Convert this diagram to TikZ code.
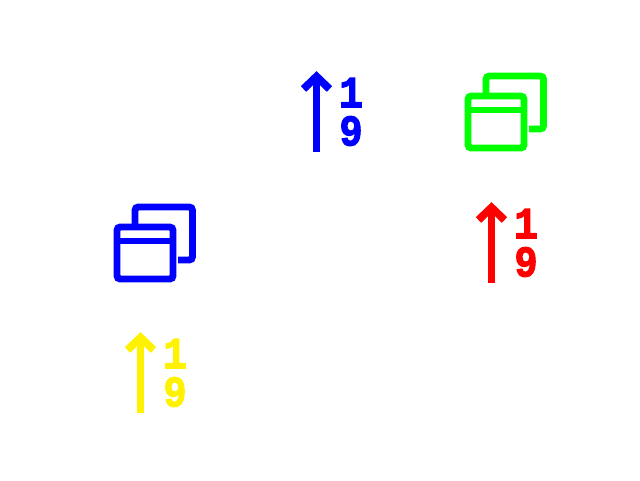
\documentclass[tikz,border=0pt]{standalone}
\usepackage{fontspec}
\setmainfont{DejaVu Sans}
\newfontfamily\digitfont[FakeBold=2.5]{Liberation Mono Bold}
\tikzset{
  x=0.75pt,y=-0.75pt,
  sym/.style={line width=5.2pt,line cap=butt},
  digit/.style={inner sep=0pt,xscale=0.88,font=\fontsize{33}{33}\digitfont},
  pics/arrowfrac/.style={code={
    \draw[sym] (0,80) -- (0,6);
    \draw[sym,line width=5.8pt,line join=miter] (-13,17) -- (0,4.5) -- (13,17);
    \node[digit,text=#1] (-one) at (34.5,20.5) {1};
    \fill[#1] (24,30) rectangle (45,36);
    \node[digit,text=#1] (-nine) at (34.5,59) {9};
  }},
  pics/windows/.style={code={
    \draw[sym,rounded corners=2.5pt] (3,20) -- (3,3) -- (60.5,3) -- (60.5,56) -- (46,56);
    \draw[sym,rounded corners=2.5pt] (-15,23) rectangle (41,75);
    \fill (-15,34) rectangle (41,40);
  }}
}
\begin{document}
\begin{tikzpicture}
\useasboundingbox (0,0) rectangle (640,480);
\pic[draw=blue,fill=blue] (a) at (316.5,72) {arrowfrac=blue};
\pic[draw=red,fill=red] (b) at (491.5,203) {arrowfrac=red};
\pic[draw=yellow,fill=yellow] (c) at (140.5,333) {arrowfrac=yellow};
\pic[draw=green,fill=green] (d) at (483,73) {windows};
\pic[draw=blue,fill=blue] (e) at (132,204) {windows};
\end{tikzpicture}
\end{document}
